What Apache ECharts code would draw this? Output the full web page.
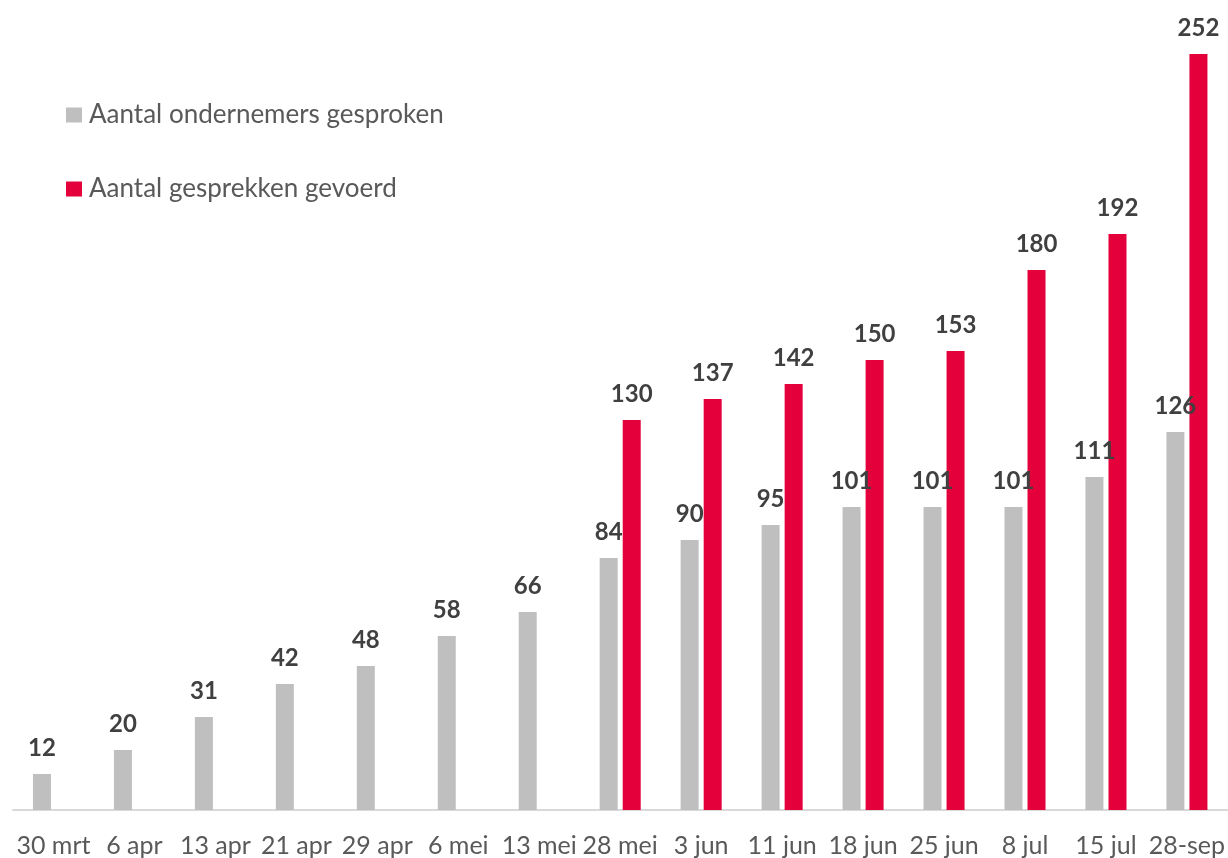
<!DOCTYPE html>
<html>
<head>
<meta charset="utf-8">
<script src="https://cdn.jsdelivr.net/npm/echarts@6/dist/echarts.min.js"></script>
<style>
html,body{margin:0;padding:0;background:#fff;}
#chart{width:1228px;height:858px;}
</style>
</head>
<body>
<div id="chart"></div>
<script>
const categories = ['30 mrt','6 apr','13 apr','21 apr','29 apr','6 mei','13 mei','28 mei','3 jun','11 jun','18 jun','25 jun','8 jul','15 jul','28-sep'];
const ondernemers = [12,20,31,42,48,58,66,84,90,95,101,101,101,111,126];
const gesprekken = [null,null,null,null,null,null,null,130,137,142,150,153,180,192,252];
const seriesNames = ['Aantal ondernemers gesproken','Aantal gesprekken gevoerd'];

const chart = echarts.init(document.getElementById('chart'));
const labelStyle = {
  show: true,
  position: 'top',
  distance: 14,
  fontFamily: 'Lato',
  fontWeight: 'bold',
  fontSize: 24,
  color: '#404040'
};
chart.setOption({
  animation: false,
  backgroundColor: '#ffffff',
  legend: {
    orient: 'vertical',
    left: 66,
    top: 102,
    padding: 0,
    itemWidth: 16,
    itemHeight: 15,
    itemGap: 48,
    icon: 'rect',
    textStyle: {fontFamily: 'Lato', fontSize: 26, color: '#595959', lineHeight: 26, padding: [0,0,0,2]},
    data: seriesNames
  },
  grid: {left: 13, right: -2, top: 30, bottom: 48, containLabel: false},
  xAxis: {
    type: 'category',
    data: categories,
    axisLine: {show: true, lineStyle: {color: '#D9D9D9', width: 2}},
    axisTick: {show: false},
    axisLabel: {fontFamily: 'Lato', fontSize: 25, color: '#595959', margin: 23, interval: 0}
  },
  yAxis: {
    type: 'value',
    min: 0,
    max: 260,
    show: false,
    splitLine: {show: false}
  },
  series: [
    {
      name: seriesNames[0],
      type: 'bar',
      data: ondernemers,
      barWidth: 18,
      barGap: '28%',
      itemStyle: {color: '#BFBFBF'},
      label: labelStyle
    },
    {
      name: seriesNames[1],
      type: 'bar',
      data: gesprekken,
      barWidth: 18,
      barGap: '28%',
      itemStyle: {color: '#E4003A'},
      label: labelStyle
    }
  ]
});
</script>
</body>
</html>
